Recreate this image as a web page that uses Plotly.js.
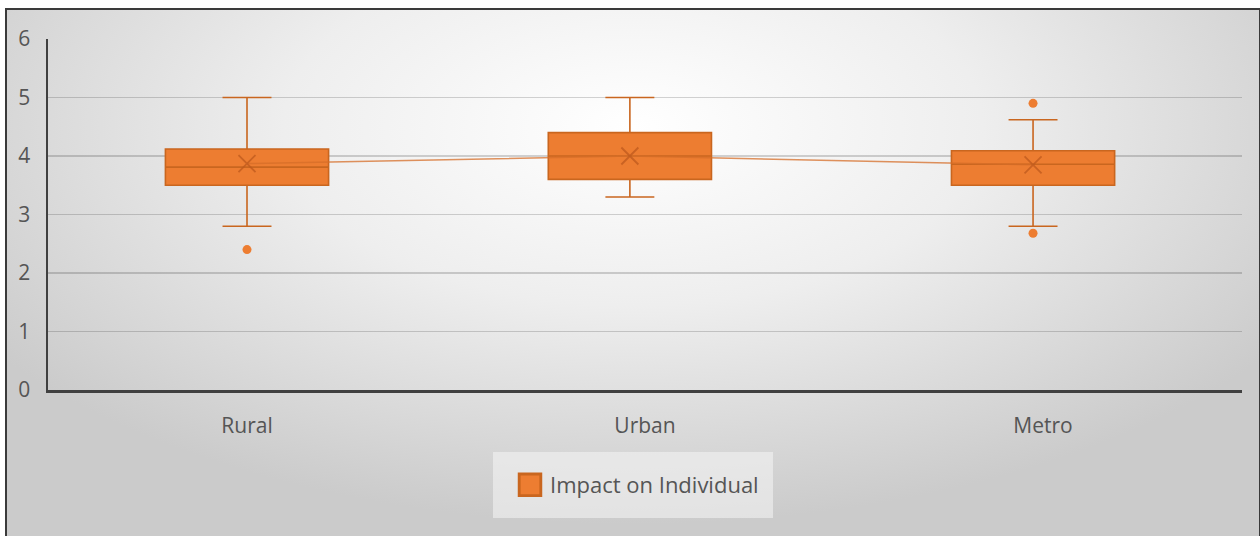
<!DOCTYPE html>
<html>
<head>
<meta charset="utf-8">
<script src="https://cdn.plot.ly/plotly-3.0.1.min.js"></script>
<style>
  html, body { margin: 0; padding: 0; background: #ffffff; }
  #frame {
    position: absolute; left: 5px; top: 8px; width: 1252px; height: 530px;
    border-top: 2px solid #3a3a3a; border-left: 2px solid #3a3a3a; border-right: 2px solid #3a3a3a;
    background: radial-gradient(ellipse 62% 75% at 50% 22%, #ffffff 0%, #eeeeee 45%, #cbcbcb 100%);
  }
  #chart { position: absolute; left: 0; top: 0; width: 1260px; height: 536px; }
</style>
</head>
<body>
<div id="frame"></div>
<div id="chart"></div>
<script>
// ---- data ----
const categories = ["Rural", "Urban", "Metro"];
const lowerWhisker = [2.8, 3.3, 2.8];
const q1Values     = [3.5, 3.6, 3.5];
const medianValues = [3.81, 4.0, 3.86];
const q3Values     = [4.12, 4.4, 4.09];
const upperWhisker = [5.0, 5.0, 4.62];
const meanValues   = [3.87, 4.0, 3.85];
const outlierCategories = ["Rural", "Metro", "Metro"];
const outlierValues     = [2.4, 4.9, 2.68];
const seriesName = "Impact on Individual";
const yTicks = [0, 1, 2, 3, 4, 5, 6];

// small horizontal nudges of the boxes relative to their category centre (layout only)
const boxNudge = [0, -0.038, -0.025];

const orange = "#ED7D31";
const orangeDark = "#C9661F";

const catIndex = c => categories.indexOf(c);
const boxX = categories.map((c, i) => i + boxNudge[i]);
const outlierX = outlierCategories.map(c => catIndex(c) + boxNudge[catIndex(c)]);

const traces = [
  {
    type: "box",
    name: seriesName,
    x: boxX,
    q1: q1Values,
    median: medianValues,
    q3: q3Values,
    lowerfence: lowerWhisker,
    upperfence: upperWhisker,
    fillcolor: orange,
    line: { color: orangeDark, width: 1.6 },
    width: 0.41,
    whiskerwidth: 0.3,
    boxpoints: false,
    hoverinfo: "skip",
    showlegend: true
  },
  {
    type: "scatter",
    mode: "lines+markers",
    x: boxX,
    y: meanValues,
    line: { color: "rgba(214,110,40,0.75)", width: 1.5 },
    marker: { symbol: "x-thin-open", size: 17, color: "rgba(190,90,30,0.75)", line: { width: 1.8, color: "rgba(190,90,30,0.75)" } },
    showlegend: false,
    hoverinfo: "skip"
  },
  {
    type: "scatter",
    mode: "markers",
    x: outlierX,
    y: outlierValues,
    marker: { symbol: "circle", size: 9, color: orange },
    showlegend: false,
    hoverinfo: "skip"
  }
];

const layout = {
  width: 1260,
  height: 536,
  paper_bgcolor: "rgba(0,0,0,0)",
  plot_bgcolor: "rgba(0,0,0,0)",
  margin: { l: 48, r: 18, t: 39, b: 146 },
  font: { family: "Open Sans, Noto Sans, sans-serif", size: 21, color: "#555555" },
  xaxis: {
    range: [-0.5, 2.5],
    tickvals: categories.map((c, i) => i),
    ticktext: categories,
    showgrid: false,
    zeroline: false,
    showline: true,
    linecolor: "#404040",
    linewidth: 2.5,
    ticks: "",
    ticklabelstandoff: 15,
    tickfont: { size: 21, color: "#555555" }
  },
  yaxis: {
    range: [0, 6],
    tickvals: yTicks,
    showgrid: true,
    gridcolor: "rgba(0,0,0,0.17)",
    gridwidth: 1.5,
    zeroline: false,
    showline: true,
    linecolor: "#404040",
    linewidth: 2.5,
    ticks: "",
    ticklabelstandoff: 11,
    tickfont: { size: 21, color: "#555555" }
  },
  shapes: [
    {
      type: "rect", xref: "paper", yref: "paper", layer: "below",
      x0: 0.3727, x1: 0.6072, y0: -0.1766, y1: -0.3647,
      fillcolor: "rgba(245,245,245,0.55)", line: { width: 0 }
    }
  ],
  legend: {
    orientation: "h",
    x: 0.4933,
    xanchor: "center",
    y: -0.2707,
    yanchor: "middle",
    bgcolor: "rgba(0,0,0,0)",
    borderwidth: 0,
    font: { size: 22, color: "#555555" },
    itemwidth: 30
  },
  showlegend: true
};

Plotly.newPlot("chart", traces, layout, { displayModeBar: false, staticPlot: true }).then(gd => {
  // enlarge the legend swatch to match the reference's big square key
  document.querySelectorAll("#chart .legendpoints path").forEach(p => {
    const t = p.getAttribute("transform") || "";
    p.setAttribute("transform", t + " scale(1.8)");
  });
});
</script>
</body>
</html>
